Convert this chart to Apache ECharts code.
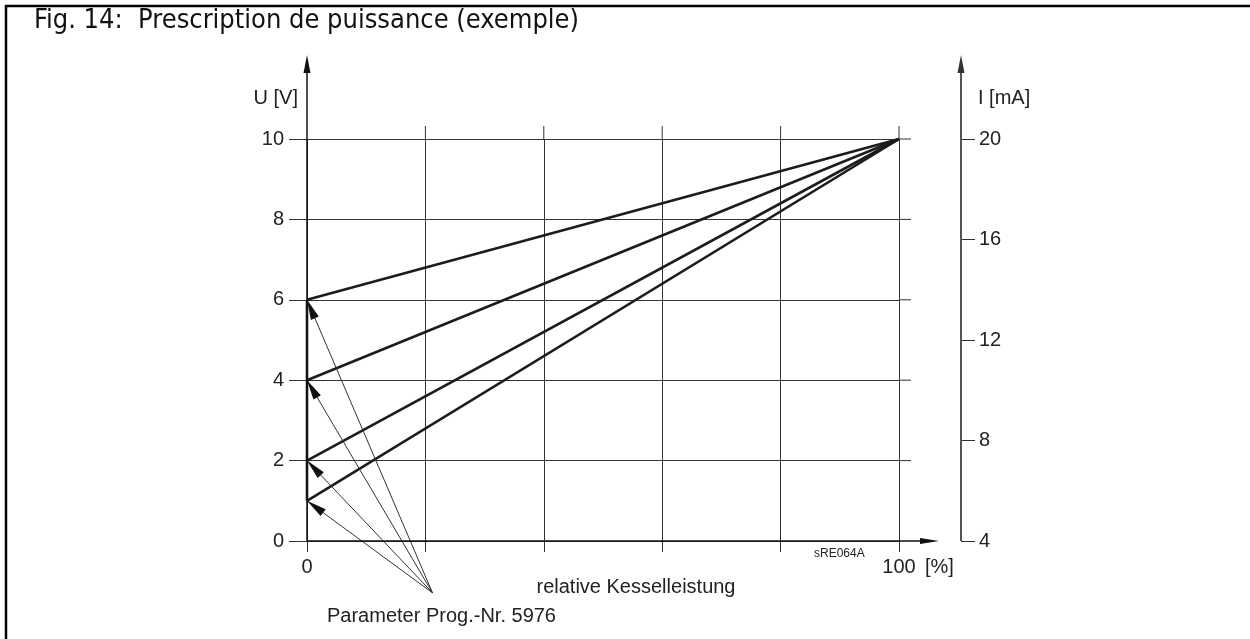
<!DOCTYPE html>
<html>
<head>
<meta charset="utf-8">
<script src="https://cdn.jsdelivr.net/npm/echarts@6/dist/echarts.min.js"></script>
<style>
  html, body { margin: 0; padding: 0; background: #fff; }
  #chart { width: 1250px; height: 639px; }
</style>
</head>
<body>
<div id="chart"></div>
<script>
// Relative boiler output (%), control voltage U (V) and current I (mA)
const xTicks = [0, 20, 40, 60, 80, 100];
const uTicks = [0, 2, 4, 6, 8, 10];
const iTicks = [4, 8, 12, 16, 20];
// Voltage at 0 % output for each parameter setting (Prog.-Nr. 5976)
const startVoltages = [6, 4, 2, 1];
// All characteristics meet here at full output
const fullOutput = [100, 10];

const INK = '#1c1c1c';
const GRID = '#333';
const FONT = '"Liberation Sans", Arial, sans-serif';
// point (in %, V) where the parameter callout arrows fan out from
const calloutFrom = [21.2, -1.29];

const chart = echarts.init(document.getElementById('chart'), null, { renderer: 'canvas' });

const characteristic = startVoltages.map(v => ({
  type: 'line',
  data: [[0, v], fullOutput],
  symbol: 'none',
  clip: false,
  silent: true,
  lineStyle: { color: INK, width: 2.6 },
  z: 5
}));

const option = {
  animation: false,
  backgroundColor: '#fff',
  grid: { left: 307, top: 139, width: 592, height: 402, containLabel: false, outerBoundsMode: 'none' },
  xAxis: {
    type: 'value', min: xTicks[0], max: xTicks[xTicks.length - 1], interval: 20,
    axisLine: { show: false },
    axisTick: { show: true, length: 11, lineStyle: { color: GRID, width: 1 } },
    splitLine: { show: true, lineStyle: { color: GRID, width: 1 } },
    axisLabel: {
      margin: 16, fontSize: 20, color: '#222', fontFamily: FONT,
      formatter: v => (v === xTicks[0] || v === xTicks[xTicks.length - 1]) ? String(v) : ''
    }
  },
  yAxis: [{
    type: 'value', position: 'left', min: uTicks[0], max: uTicks[uTicks.length - 1], interval: 2,
    axisLine: { show: false },
    axisTick: { show: true, length: 18, lineStyle: { color: GRID, width: 1 } },
    splitLine: { show: true, lineStyle: { color: GRID, width: 1 } },
    axisLabel: { margin: 23, fontSize: 20, color: '#222', fontFamily: FONT }
  }, {
    type: 'value', position: 'right', offset: 62,
    min: iTicks[0], max: iTicks[iTicks.length - 1], interval: 4,
    axisLine: { show: false },
    axisTick: { show: true, length: 14, lineStyle: { color: GRID, width: 1 } },
    splitLine: { show: false },
    axisLabel: { margin: 18, fontSize: 20, color: '#222', fontFamily: FONT }
  }],
  series: [
    ...characteristic,
    {
      // common foot of the characteristics on the U axis
      type: 'line',
      data: [[0, Math.min(...startVoltages)], [0, Math.max(...startVoltages)]],
      symbol: 'none', clip: false, silent: true,
      lineStyle: { color: INK, width: 2.6 }, z: 5
    },
    {
      // callout shafts from the parameter caption to each start point
      type: 'lines',
      coordinateSystem: 'cartesian2d',
      clip: false,
      silent: true,
      symbol: 'none',
      lineStyle: { color: '#333', width: 1, opacity: 1, curveness: 0 },
      data: startVoltages.map(v => ({ coords: [calloutFrom, [0, v]] })),
      z: 6
    }
  ]
};

chart.setOption(option);

// Axis lines with arrows, arrow heads, short grid overhangs and captions
const px = (x, y) => chart.convertToPixel({ gridIndex: 0 }, [x, y]);
const o = px(0, 0);
const x100 = px(100, 0)[0];
const rightX = x100 + 62;
const iBottom = chart.convertToPixel({ yAxisIndex: 1 }, iTicks[0]);
const arrowTipY = 55;

const g = [];
const seg = (x1, y1, x2, y2, color, w) => g.push({
  type: 'line', silent: true, z: 10,
  shape: { x1, y1, x2, y2 },
  style: { stroke: color, lineWidth: w }
});
const tri = (pts, color) => g.push({
  type: 'polygon', silent: true, z: 10,
  shape: { points: pts }, style: { fill: color }
});
const txt = (x, y, text, size, align, family, color) => g.push({
  type: 'text', silent: true, z: 10, x, y,
  style: { text, fontSize: size, fontFamily: family || FONT, fill: color || '#222', align: align || 'left', verticalAlign: 'middle' }
});
// slender arrow head with its tip on `to`, pointing away from `from`
const head = (from, to, len, half, color) => {
  const dx = to[0] - from[0], dy = to[1] - from[1];
  const l = Math.hypot(dx, dy), ux = dx / l, uy = dy / l;
  const bx = to[0] - ux * len, by = to[1] - uy * len;
  tri([[to[0], to[1]], [bx - uy * half, by + ux * half], [bx + uy * half, by - ux * half]], color);
};

// frame
g.push({ type: 'polyline', silent: true, z: 10,
  shape: { points: [[6, 639], [6, 6], [1250, 6]] },
  style: { stroke: '#000', lineWidth: 2.5, fill: null } });

// U axis
seg(o[0], o[1], o[0], arrowTipY + 14, '#111', 1.5);
head([o[0], o[1]], [o[0], arrowTipY], 18, 3.5, '#111');
// output axis
seg(o[0], o[1], 925, o[1], '#111', 1.5);
head([o[0], o[1]], [939, o[1]], 19, 3, '#111');
// I axis
seg(rightX, iBottom, rightX, arrowTipY + 14, '#555', 2);
head([rightX, iBottom], [rightX, arrowTipY], 18, 3.5, '#333');

// callout arrow heads
const from = px(calloutFrom[0], calloutFrom[1]);
startVoltages.forEach(v => head(from, px(0, v), 20, 4.3, '#111'));

// grid overhangs above 10 V and right of 100 %
xTicks.slice(1).forEach(v => { const p = px(v, 10); seg(p[0], p[1], p[0], p[1] - 13, GRID, 1); });
uTicks.slice(1).forEach(v => { const p = px(100, v); seg(p[0], p[1], p[0] + 12, p[1], GRID, 1); });

txt(34, 21, 'Fig. 14:  Prescription de puissance (exemple)', 27, 'left', '"DejaVu Sans Condensed", "DejaVu Sans", sans-serif', '#111');
txt(298, 98, 'U [V]', 20, 'right');
txt(978, 98, 'I [mA]', 20, 'left');
txt(925, 567, '[%]', 20, 'left');
txt(636, 587, 'relative Kesselleistung', 20, 'center');
txt(327, 616, 'Parameter Prog.-Nr. 5976', 20, 'left');
txt(814, 554, 'sRE064A', 12, 'left');

chart.setOption({ graphic: { elements: g } });
</script>
</body>
</html>
